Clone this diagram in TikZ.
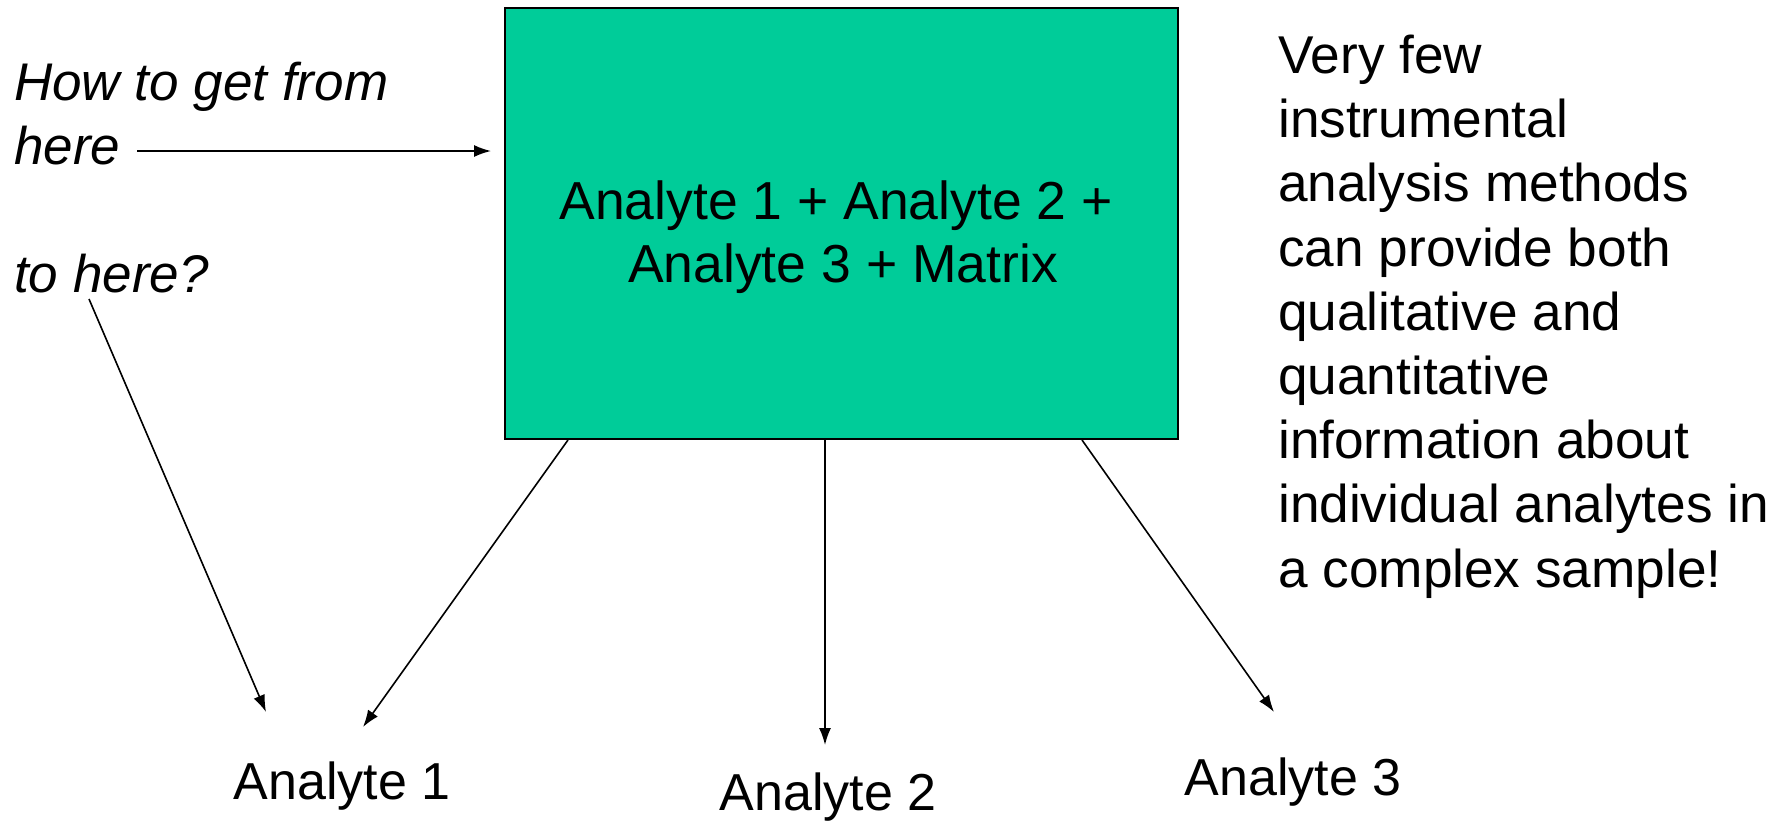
\documentclass[tikz,border=0pt]{standalone}
\usepackage{fontspec}
\setmainfont{Liberation Sans}
\usetikzlibrary{arrows.meta}
\definecolor{boxgreen}{HTML}{00CC99}
\begin{document}
\begin{tikzpicture}[x=1pt,y=-1pt,
  txt/.style={font=\fontsize{52}{64}\selectfont, inner sep=0pt},
  rtxt/.style={font=\fontsize{53.2}{64.2}\selectfont, inner sep=0pt},
  btxt/.style={font=\fontsize{53.5}{63}\selectfont, inner sep=0pt},
  itxt/.style={font=\fontsize{53}{64}\selectfont\itshape, inner sep=0pt},
  conn/.style={line width=1.6pt, -{Latex[length=17pt,width=12pt]}},
]
\useasboundingbox[fill=white] (0,0) rectangle (1789,820);
\node[draw=black, line width=2.2pt, fill=boxgreen, minimum width=673pt, minimum height=431pt, inner sep=0pt] (box) at (841.5,223.5) {};
\node[btxt, align=center, anchor=base] (boxtext) at (836,282) {Analyte 1 + Analyte 2 +\\\hspace*{14pt}Analyte 3 + Matrix};

\node[itxt, anchor=base west, align=left] (q1) at (14,164) {How to get from\\here};
\node[itxt, anchor=base west] (q2) at (14,292) {to here?};

\node[rtxt, anchor=base west, align=left] (info) at (1278,587) {Very few\\instrumental\\analysis methods\\can provide both\\qualitative and\\quantitative\\information about\\individual analytes in\\a complex sample!};

\node[txt, anchor=base] (a1) at (342,799) {Analyte 1};
\node[txt, anchor=base] (a2) at (828,810) {Analyte 2};
\node[txt, anchor=base] (a3) at (1293,795) {Analyte 3};

\coordinate (hereEnd) at (137,151);
\coordinate (boxIn) at (491,151);
\coordinate (q2start) at (89,299);
\coordinate (a1inA) at (266,712);
\coordinate (b1) at (568,440);
\coordinate (a1inB) at (363,727);
\coordinate (b2) at (825,440);
\coordinate (a2in) at (825,745);
\coordinate (b3) at (1082,440);
\coordinate (a3in) at (1274,712);

\draw[conn] (hereEnd) -- (boxIn);
\draw[conn] (q2start) -- (a1inA);
\draw[conn] (b1) -- (a1inB);
\draw[conn] (b2) -- (a2in);
\draw[conn] (b3) -- (a3in);
\end{tikzpicture}
\end{document}
